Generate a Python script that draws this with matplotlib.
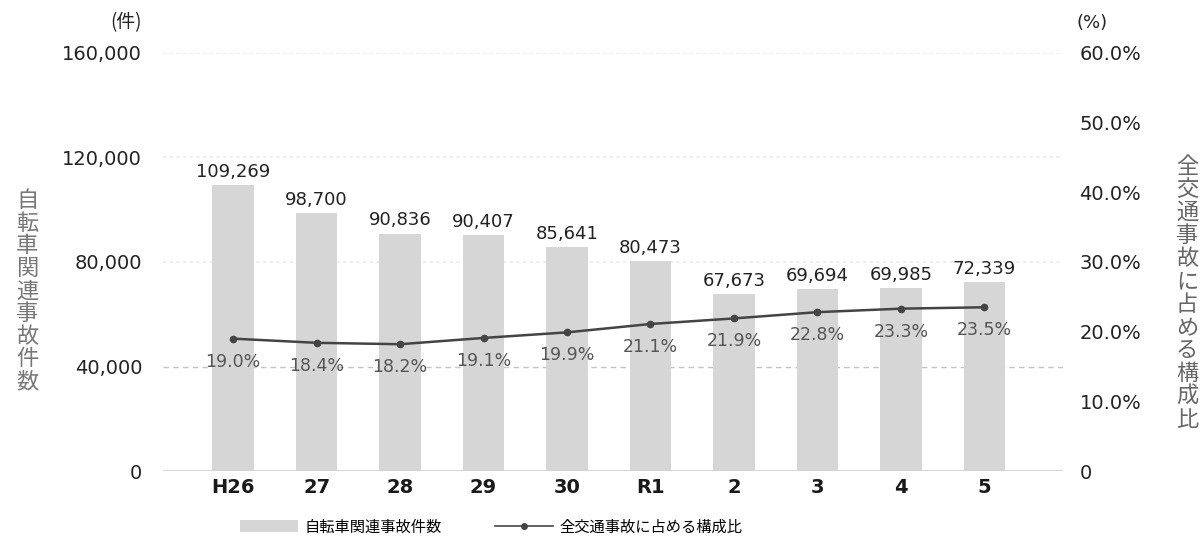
import matplotlib
matplotlib.use("Agg")
import matplotlib.pyplot as plt
from matplotlib.lines import Line2D
from matplotlib.patches import Patch

plt.rcParams['font.family'] = ['Noto Sans CJK JP', 'DejaVu Sans']
NUM = ['DejaVu Sans']

categories = ["H26", "27", "28", "29", "30", "R1", "2", "3", "4", "5"]
bike_accidents = [109269, 98700, 90836, 90407, 85641, 80473, 67673, 69694, 69985, 72339]
share_pct = [19.0, 18.4, 18.2, 19.1, 19.9, 21.1, 21.9, 22.8, 23.3, 23.5]
left_ticks = [0, 40000, 80000, 120000, 160000]
right_ticks = [0, 10, 20, 30, 40, 50, 60]

fig = plt.figure(figsize=(12.03, 5.39), dpi=100)
ax = fig.add_axes([0.1355, 0.126, 0.748, 0.776])
ax2 = ax.twinx()

x = list(range(len(categories)))
ax.bar(x, bike_accidents, width=0.5, color="#d6d6d6", zorder=2)
ax.set_xlim(-0.84, 9.94)
ax.set_ylim(0, 160000)

# gridlines
for v in [80000, 120000, 160000]:
    ax.axhline(v, color="#ebebeb", lw=1.2, ls=(0, (2, 2)), zorder=1)
ax.axhline(40000, color="#c4c4c4", lw=1.0, ls=(0, (4, 3)), zorder=1)
ax.axhline(0, color="#cfcfcf", lw=1.2, zorder=3)

for sp in ax.spines.values():
    sp.set_visible(False)
for sp in ax2.spines.values():
    sp.set_visible(False)

ax.set_yticks(left_ticks)
ax.set_yticklabels([f"{v:,}" for v in left_ticks], fontsize=14, color="#222222", family=NUM)
ax.tick_params(axis='y', length=0, pad=15)
ax.set_xticks(x)
ax.set_xticklabels(categories, fontsize=14, color="#1a1a1a", fontweight='bold', family=NUM)
ax.tick_params(axis='x', length=0, pad=5)

for xi, v in zip(x, bike_accidents):
    ax.annotate(f"{v:,}", (xi, v), xytext=(0, 3), textcoords="offset points",
                ha="center", va="bottom", fontsize=13, color="#222222", family=NUM)

ax2.set_ylim(0, 60)
ax2.plot(x, share_pct, color="#444444", lw=1.8, marker="o", markersize=4.5, zorder=5)
ax2.set_yticks(right_ticks)
ax2.set_yticklabels(["0"] + [f"{v:.1f}%" for v in right_ticks[1:]], fontsize=14,
                    color="#222222", family=NUM)
ax2.tick_params(axis='y', length=0, pad=12)
for xi, v in zip(x, share_pct):
    ax2.annotate(f"{v:.1f}%", (xi, v), xytext=(0, -10), textcoords="offset points",
                 ha="center", va="top", fontsize=12.5, color="#555555", family=NUM)

# unit labels
fig.text(126 / 1203, 1 - 23 / 539, "(件)", ha="center", va="center", fontsize=13.5, color="#222222")
fig.text(1092 / 1203, 1 - 23 / 539, "(%)", ha="center", va="center", fontsize=13,
         color="#222222", family=NUM)

# vertical axis titles
left_title = "自転車関連事故件数"
right_title = "全交通事故に占める構成比"
fig.text(27 / 1203, 1 - 291 / 539, "\n".join(left_title), ha="center", va="center",
         fontsize=16, color="#777777", linespacing=0.98)
fig.text(1187 / 1203, 1 - 293 / 539, "\n".join(right_title), ha="center", va="center",
         fontsize=16, color="#666666", linespacing=1.0)

# legend
handles = [Patch(facecolor="#d6d6d6", edgecolor="none"),
           Line2D([0], [0], color="#444444", lw=1.2, marker="o", markersize=4)]
leg = fig.legend(handles, ["自転車関連事故件数", "全交通事故に占める構成比"],
                 loc="center", bbox_to_anchor=(491 / 1203, 1 - 527 / 539), ncol=2,
                 frameon=False, fontsize=11, handlelength=3.8, handleheight=0.8,
                 columnspacing=3.5, handletextpad=0.4)

fig.savefig("out.png", dpi=100)
